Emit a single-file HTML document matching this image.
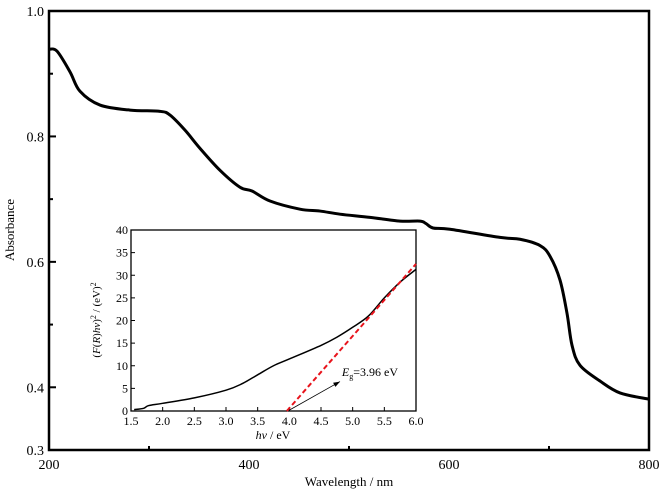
<!DOCTYPE html>
<html><head><meta charset="utf-8"><style>
body{margin:0;background:#fff;}
svg{display:block;font-family:"Liberation Serif",serif;}
</style></head><body>
<svg width="666" height="495">
<g id="main"></g><g id="inset"></g>
</svg>
<script>
const mainWl=[200,208,221,231,251,281,311,321,336,351,371,391,403,421,451,471,491,521,551,571,577,584,601,651,671,691,701,711,718,723,731,751,771,800];
const mainAbs=[0.939,0.936,0.903,0.872,0.850,0.842,0.840,0.834,0.810,0.781,0.746,0.719,0.713,0.697,0.684,0.681,0.676,0.671,0.665,0.665,0.661,0.654,0.652,0.639,0.636,0.626,0.609,0.571,0.518,0.467,0.435,0.410,0.391,0.381];
const mainXTicks=[200,400,600,800];
const mainYTicks=[0.3,0.4,0.6,0.8,1.0];
const insetE=[1.55,1.7,1.78,2.0,2.5,3.0,3.25,3.5,3.75,4.0,4.5,4.75,5.0,5.25,5.5,5.75,6.0];
const insetV=[0.3,0.6,1.2,1.7,2.9,4.6,6,8,10,11.5,14.5,16.3,18.5,21,25,28.5,31.3];
const fitE=[3.96,6.0];
const fitV=[0,32.5];
const insetXTicks=[1.5,2.0,2.5,3.0,3.5,4.0,4.5,5.0,5.5,6.0];
const insetYTicks=[0,5,10,15,20,25,30,35,40];
const NS="http://www.w3.org/2000/svg";
function mk(p,t,a,txt){const e=document.createElementNS(NS,t);for(const k in a)e.setAttribute(k,a[k]);if(txt!==undefined)e.textContent=txt;p.appendChild(e);return e;}
const M=document.getElementById('main');
const mx=v=>49+(v-200)*600/600, my=v=>450-(v-0.3)*439/0.7;
let e;
e=mk(M,'rect',{x:49,y:11,width:600,height:439,fill:'none',stroke:'#000','stroke-width':2.5});


[300,500,700].forEach(v=>{e=mk(M,'line',{x1:mx(v),x2:mx(v),y1:450,y2:446,stroke:'#000','stroke-width':2});

});
mainXTicks.forEach(v=>{e=mk(M,'text',{x:mx(v),y:469,'text-anchor':'middle','font-size':14},v);

});
mainYTicks.forEach(v=>{if(v>0.3&&v<1.0){e=mk(M,'line',{x1:49,x2:56,y1:my(v),y2:my(v),stroke:'#000','stroke-width':2});

}
e=mk(M,'text',{x:44,y:my(v)+5,'text-anchor':'end','font-size':14},v.toFixed(1));

});
[0.9,0.7,0.5].forEach(v=>{e=mk(M,'line',{x1:49,x2:53,y1:my(v),y2:my(v),stroke:'#000','stroke-width':2});

});
e=mk(M,'text',{x:349,y:486,'text-anchor':'middle','font-size':13},'Wavelength / nm');


e=mk(M,'text',{x:0,y:0,'text-anchor':'middle','font-size':13,transform:'translate(14,230) rotate(-90)'},'Absorbance');


function smooth(xs,ys){let d='M'+xs[0]+','+ys[0];for(let i=0;i<xs.length-1;i++){const x0=xs[Math.max(0,i-1)],y0=ys[Math.max(0,i-1)],x1=xs[i],y1=ys[i],x2=xs[i+1],y2=ys[i+1],x3=xs[Math.min(xs.length-1,i+2)],y3=ys[Math.min(xs.length-1,i+2)];d+=' C'+(x1+(x2-x0)/6)+','+(y1+(y2-y0)/6)+' '+(x2-(x3-x1)/6)+','+(y2-(y3-y1)/6)+' '+x2+','+y2;}return d;}
e=mk(M,'path',{d:smooth(mainWl.map(mx),mainAbs.map(my)),fill:'none',stroke:'#000','stroke-width':3});


const I=document.getElementById('inset');
const ix=v=>131+(v-1.5)*285/4.5, iy=v=>411-v*181/40;
e=mk(I,'rect',{x:131,y:230,width:285,height:181,fill:'#fff',stroke:'#000','stroke-width':1.3});


insetXTicks.forEach(v=>{e=mk(I,'line',{x1:ix(v),x2:ix(v),y1:411,y2:407,stroke:'#000','stroke-width':1});


e=mk(I,'text',{x:ix(v),y:425,'text-anchor':'middle','font-size':12},v.toFixed(1));

});
insetYTicks.forEach(v=>{e=mk(I,'line',{x1:131,x2:135,y1:iy(v),y2:iy(v),stroke:'#000','stroke-width':1});


e=mk(I,'text',{x:128,y:iy(v)+4,'text-anchor':'end','font-size':12},v);

});
e=mk(I,'text',{x:273,y:439,'text-anchor':'middle','font-size':12},'');
e.innerHTML='<tspan font-style="italic">hν</tspan> / eV';


e=mk(I,'text',{x:0,y:0,'text-anchor':'middle','font-size':11,transform:'translate(100,320) rotate(-90)'},'');
e.innerHTML='(<tspan font-style="italic">F</tspan>(<tspan font-style="italic">R</tspan>)<tspan font-style="italic">hν</tspan>)<tspan dy="-4" font-size="8">2</tspan><tspan dy="4"> / (eV)</tspan><tspan dy="-4" font-size="8">2</tspan>';


e=mk(I,'path',{d:smooth(insetE.map(ix),insetV.map(iy)),fill:'none',stroke:'#000','stroke-width':1.5});


e=mk(I,'line',{x1:ix(fitE[0]),y1:iy(fitV[0]),x2:ix(fitE[1]),y2:iy(fitV[1]),stroke:'#e8141c','stroke-width':2,'stroke-dasharray':'5,3'});


const ax0=ix(4.0),ay0=iy(0.2),ax1=ix(4.8),ay1=iy(6.5);
e=mk(I,'line',{x1:ax0,y1:ay0,x2:ax1,y2:ay1,stroke:'#000','stroke-width':0.8});


const ang=Math.atan2(ay1-ay0,ax1-ax0);
e=mk(I,'polygon',{points:`${ax1},${ay1} ${ax1-7*Math.cos(ang-0.35)},${ay1-7*Math.sin(ang-0.35)} ${ax1-7*Math.cos(ang+0.35)},${ay1-7*Math.sin(ang+0.35)}`,fill:'#000'});


e=mk(I,'text',{x:ix(4.83),y:iy(7.7),'font-size':12},'');
e.innerHTML='<tspan font-style="italic">E</tspan><tspan font-size="8" dy="3">g</tspan><tspan dy="-3">=3.96 eV</tspan>';


</script>
</body></html>
